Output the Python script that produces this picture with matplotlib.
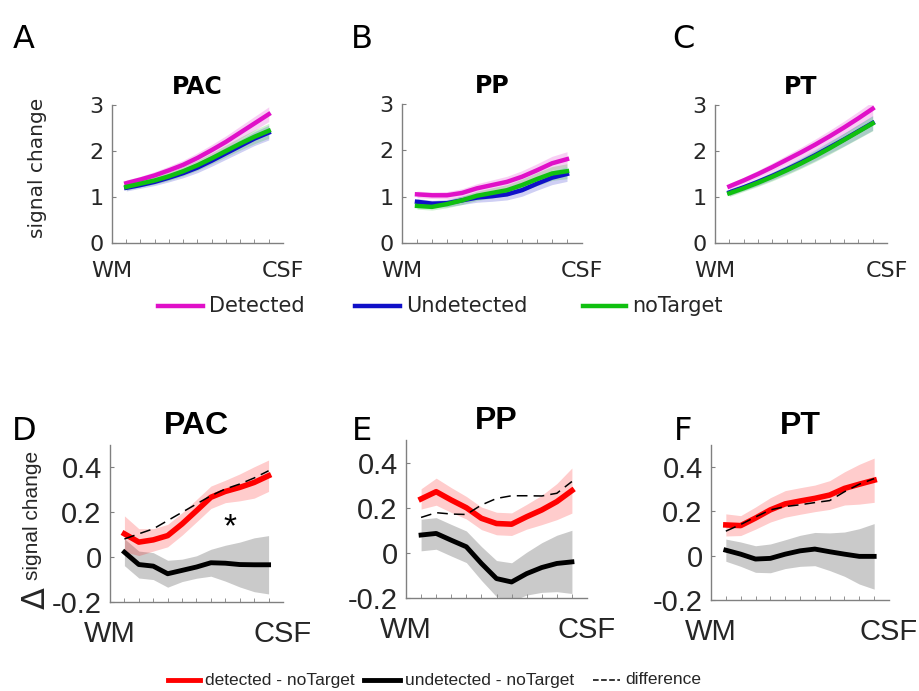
import numpy as np
import matplotlib
matplotlib.use('Agg')
import matplotlib.pyplot as plt
from matplotlib.lines import Line2D

# depth positions (WM -> CSF)
depth = np.arange(1, 12)

# top row: signal change per condition
pac_det = [1.30, 1.38, 1.47, 1.58, 1.70, 1.85, 2.02, 2.20, 2.40, 2.60, 2.80]
pac_und = [1.20, 1.26, 1.33, 1.42, 1.52, 1.64, 1.79, 1.95, 2.11, 2.27, 2.40]
pac_not = [1.22, 1.29, 1.36, 1.45, 1.56, 1.69, 1.84, 2.00, 2.16, 2.31, 2.44]
pp_det = [1.05, 1.03, 1.03, 1.08, 1.18, 1.25, 1.32, 1.43, 1.57, 1.72, 1.81]
pp_und = [0.89, 0.85, 0.86, 0.92, 0.98, 1.01, 1.05, 1.14, 1.28, 1.41, 1.49]
pp_not = [0.80, 0.78, 0.84, 0.92, 1.02, 1.08, 1.14, 1.25, 1.38, 1.50, 1.55]
pt_det = [1.23, 1.36, 1.50, 1.65, 1.81, 1.97, 2.14, 2.32, 2.51, 2.71, 2.92]
pt_und = [1.10, 1.21, 1.33, 1.46, 1.60, 1.75, 1.91, 2.08, 2.25, 2.43, 2.61]
pt_not = [1.08, 1.19, 1.31, 1.44, 1.58, 1.73, 1.89, 2.06, 2.24, 2.42, 2.60]
top_err = [0.07, 0.07, 0.08, 0.09, 0.10, 0.11, 0.12, 0.13, 0.14, 0.15, 0.16]

# bottom row: differences
pac_dn = [0.104, 0.067, 0.077, 0.096, 0.148, 0.207, 0.267, 0.293, 0.311, 0.333, 0.363]
pac_un = [0.022, -0.033, -0.040, -0.074, -0.059, -0.044, -0.025, -0.027, -0.033, -0.034, -0.034]
pac_diff = [0.081, 0.104, 0.126, 0.163, 0.200, 0.237, 0.274, 0.304, 0.326, 0.353, 0.385]
pac_dn_err = [0.08, 0.06, 0.05, 0.05, 0.05, 0.05, 0.05, 0.05, 0.06, 0.07, 0.07]
pac_un_err = [0.06, 0.06, 0.06, 0.06, 0.05, 0.05, 0.06, 0.08, 0.10, 0.12, 0.13]

pp_dn = [0.239, 0.271, 0.234, 0.200, 0.153, 0.130, 0.127, 0.160, 0.190, 0.227, 0.276]
pp_un = [0.079, 0.086, 0.056, 0.027, -0.047, -0.114, -0.129, -0.092, -0.065, -0.047, -0.040]
pp_diff = [0.157, 0.178, 0.172, 0.170, 0.212, 0.241, 0.253, 0.253, 0.252, 0.264, 0.316]
pp_dn_err = [0.045, 0.06, 0.055, 0.05, 0.05, 0.05, 0.05, 0.055, 0.065, 0.08, 0.10]
pp_un_err = [0.07, 0.07, 0.07, 0.07, 0.075, 0.08, 0.085, 0.095, 0.11, 0.125, 0.14]

pt_dn = [0.139, 0.136, 0.170, 0.207, 0.234, 0.247, 0.259, 0.274, 0.304, 0.323, 0.341]
pt_un = [0.025, 0.007, -0.015, -0.012, 0.007, 0.022, 0.030, 0.018, 0.007, -0.003, -0.003]
pt_diff = [0.111, 0.141, 0.175, 0.207, 0.222, 0.230, 0.240, 0.249, 0.289, 0.323, 0.348]
pt_dn_err = [0.05, 0.045, 0.05, 0.055, 0.06, 0.06, 0.06, 0.065, 0.075, 0.09, 0.10]
pt_un_err = [0.05, 0.055, 0.06, 0.065, 0.065, 0.07, 0.075, 0.085, 0.10, 0.125, 0.148]

c_det = '#e010c8'
c_und = '#1010c8'
c_not = '#10c010'
c_red = '#ff0000'
grey = '#808080'
txt = '#262626'

W, H = 920, 691
fig = plt.figure(figsize=(W / 100, H / 100), dpi=100)


def box(l, t, r, b):
    return [l / W, 1 - b / H, (r - l) / W, (b - t) / H]


def style(ax, fam, tick_fs, lab_fs, ylim, yticks, yfmt):
    ax.set_xlim(0, 12)
    ax.set_ylim(*ylim)
    for s in ['top', 'right']:
        ax.spines[s].set_visible(False)
    for s in ['left', 'bottom']:
        ax.spines[s].set_color(grey)
        ax.spines[s].set_linewidth(1.0)
    ax.set_xticks([0, 12])
    ax.set_xticklabels(['WM', 'CSF'], family=fam, fontsize=lab_fs, color=txt)
    ax.set_xticks(depth, minor=True)
    ax.set_yticks(yticks)
    ax.set_yticklabels(yfmt, family=fam, fontsize=tick_fs, color=txt)
    ax.tick_params(axis='x', which='major', length=0, pad=13)
    ax.tick_params(axis='x', which='minor', direction='in', length=3, color=grey)
    ax.tick_params(axis='y', direction='in', length=3, color=grey, pad=6)


top_boxes = [(112, 105, 283, 243), (402, 104, 582, 243), (715, 105, 887, 243)]
top_data = [(pac_det, pac_und, pac_not), (pp_det, pp_und, pp_not), (pt_det, pt_und, pt_not)]
top_titles = ['PAC', 'PP', 'PT']
for bx, (d, u, n), ttl in zip(top_boxes, top_data, top_titles):
    ax = fig.add_axes(box(*bx))
    for ser, col in [(d, c_det), (u, c_und), (n, c_not)]:
        ser = np.array(ser)
        ax.fill_between(depth, ser - np.array(top_err), ser + np.array(top_err),
                        color=col, alpha=0.2, lw=0)
    for ser, col in [(d, c_det), (u, c_und), (n, c_not)]:
        ax.plot(depth, ser, color=col, lw=3.2)
    style(ax, 'DejaVu Sans', 16, 16, (0, 3), [0, 1, 2, 3], ['0', '1', '2', '3'])
    ax.set_title(ttl, family='DejaVu Sans', fontweight='bold', fontsize=17, pad=8)

bot_boxes = [(110, 445, 283, 602), (406, 440, 587, 598), (711, 445, 889, 600)]
bot_data = [(pac_dn, pac_un, pac_diff, pac_dn_err, pac_un_err),
            (pp_dn, pp_un, pp_diff, pp_dn_err, pp_un_err),
            (pt_dn, pt_un, pt_diff, pt_dn_err, pt_un_err)]
bot_axes = []
for bx, (dn, un, df, dne, une), ttl in zip(bot_boxes, bot_data, top_titles):
    ax = fig.add_axes(box(*bx))
    dn, un, dne, une = map(np.array, (dn, un, dne, une))
    ax.fill_between(depth, un - une, un + une, color='#bdbdbd', alpha=0.8, lw=0)
    ax.fill_between(depth, dn - dne, dn + dne, color=c_red, alpha=0.2, lw=0)
    ax.plot(depth, dn, color=c_red, lw=4)
    ax.plot(depth, un, color='black', lw=3.5)
    ax.plot(depth, df, color='black', lw=1.1, ls=(0, (7, 4)))
    style(ax, 'Liberation Sans', 21, 21, (-0.2, 0.5), [-0.2, 0, 0.2, 0.4],
          ['-0.2', '0', '0.2', '0.4'])
    ax.set_title(ttl, family='Liberation Sans', fontweight='bold', fontsize=23, pad=8)
    bot_axes.append(ax)

bot_axes[0].text(8.3, 0.13, '*', fontsize=24, ha='center', va='center',
                 family='Liberation Sans')

# panel letters
for lab, x, y in [('A', 24, 40), ('B', 362, 40), ('C', 683, 40),
                  ('D', 24, 431), ('E', 362, 431), ('F', 683, 431)]:
    fig.text(x / W, 1 - y / H, lab, fontsize=23, ha='center', va='center',
             family='DejaVu Sans', color='black')

# y labels
fig.text(38 / W, 1 - 168 / H, 'signal change', rotation=90, fontsize=14.5,
         ha='center', va='center', family='DejaVu Sans', color=txt)
fig.text(33 / W, 1 - 515 / H, 'signal change', rotation=90, fontsize=15,
         ha='center', va='center', family='Liberation Sans', color=txt)
fig.text(36 / W, 1 - 598 / H, '\u0394', rotation=90, fontsize=23,
         ha='center', va='center', family='DejaVu Sans', color=txt)

# top legend
leg_top = [('Detected', c_det, 158, 203), ('Undetected', c_und, 355, 400),
           ('noTarget', c_not, 583, 626)]
for name, col, x0, x1 in leg_top:
    fig.add_artist(Line2D([x0 / W, x1 / W], [1 - 306 / H] * 2, color=col, lw=3.2))
    fig.text((x1 + 6) / W, 1 - 306 / H, name, fontsize=15, va='center',
             family='DejaVu Sans', color=txt)

# bottom legend
leg_bot = [('detected - noTarget', c_red, '-', 3.5, 168, 200),
           ('undetected - noTarget', 'black', '-', 3.5, 364, 400),
           ('difference', 'black', '--', 1.1, 593, 620)]
for name, col, ls, lw, x0, x1 in leg_bot:
    fig.add_artist(Line2D([x0 / W, x1 / W], [1 - 680 / H] * 2, color=col, lw=lw, ls=ls))
    fig.text((x1 + 5) / W, 1 - 680 / H, name, fontsize=12.5, va='center',
             family='Liberation Sans', color=txt)

fig.savefig('out.png', dpi=100)
